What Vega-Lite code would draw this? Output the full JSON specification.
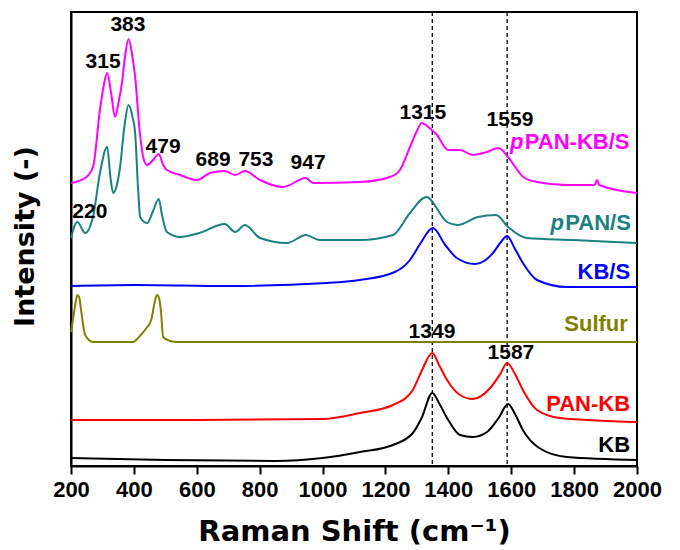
{
  "$schema": "https://vega.github.io/schema/vega-lite/v6.json",
  "width": 566,
  "height": 454,
  "autosize": "none",
  "padding": {"left": 71, "top": 12, "right": 43, "bottom": 84},
  "background": "white",
  "config": {"view": {"stroke": "black", "strokeWidth": 2}},
  "datasets": {
    "spectra": [
      {"series": "pPAN-KB/S", "wn": 200, "I": 283},
      {"series": "pPAN-KB/S", "wn": 245, "I": 288},
      {"series": "pPAN-KB/S", "wn": 270, "I": 299},
      {"series": "pPAN-KB/S", "wn": 292, "I": 356},
      {"series": "pPAN-KB/S", "wn": 305, "I": 382},
      {"series": "pPAN-KB/S", "wn": 315, "I": 393},
      {"series": "pPAN-KB/S", "wn": 328, "I": 372},
      {"series": "pPAN-KB/S", "wn": 340, "I": 349},
      {"series": "pPAN-KB/S", "wn": 352, "I": 365},
      {"series": "pPAN-KB/S", "wn": 362, "I": 383},
      {"series": "pPAN-KB/S", "wn": 372, "I": 410},
      {"series": "pPAN-KB/S", "wn": 383, "I": 427},
      {"series": "pPAN-KB/S", "wn": 395, "I": 410},
      {"series": "pPAN-KB/S", "wn": 404, "I": 389},
      {"series": "pPAN-KB/S", "wn": 419, "I": 333},
      {"series": "pPAN-KB/S", "wn": 432, "I": 306},
      {"series": "pPAN-KB/S", "wn": 442, "I": 301},
      {"series": "pPAN-KB/S", "wn": 461, "I": 306},
      {"series": "pPAN-KB/S", "wn": 479, "I": 312},
      {"series": "pPAN-KB/S", "wn": 492, "I": 302},
      {"series": "pPAN-KB/S", "wn": 505, "I": 296},
      {"series": "pPAN-KB/S", "wn": 547, "I": 291},
      {"series": "pPAN-KB/S", "wn": 601, "I": 286},
      {"series": "pPAN-KB/S", "wn": 642, "I": 293},
      {"series": "pPAN-KB/S", "wn": 689, "I": 295},
      {"series": "pPAN-KB/S", "wn": 722, "I": 291},
      {"series": "pPAN-KB/S", "wn": 753, "I": 295},
      {"series": "pPAN-KB/S", "wn": 801, "I": 286},
      {"series": "pPAN-KB/S", "wn": 874, "I": 279},
      {"series": "pPAN-KB/S", "wn": 947, "I": 288},
      {"series": "pPAN-KB/S", "wn": 970, "I": 283},
      {"series": "pPAN-KB/S", "wn": 1119, "I": 284},
      {"series": "pPAN-KB/S", "wn": 1214, "I": 289},
      {"series": "pPAN-KB/S", "wn": 1246, "I": 296},
      {"series": "pPAN-KB/S", "wn": 1278, "I": 319},
      {"series": "pPAN-KB/S", "wn": 1300, "I": 335},
      {"series": "pPAN-KB/S", "wn": 1315, "I": 343},
      {"series": "pPAN-KB/S", "wn": 1340, "I": 338},
      {"series": "pPAN-KB/S", "wn": 1364, "I": 331},
      {"series": "pPAN-KB/S", "wn": 1399, "I": 316},
      {"series": "pPAN-KB/S", "wn": 1437, "I": 316},
      {"series": "pPAN-KB/S", "wn": 1478, "I": 311},
      {"series": "pPAN-KB/S", "wn": 1523, "I": 314},
      {"series": "pPAN-KB/S", "wn": 1559, "I": 318},
      {"series": "pPAN-KB/S", "wn": 1590, "I": 309},
      {"series": "pPAN-KB/S", "wn": 1615, "I": 298},
      {"series": "pPAN-KB/S", "wn": 1638, "I": 289},
      {"series": "pPAN-KB/S", "wn": 1682, "I": 284},
      {"series": "pPAN-KB/S", "wn": 1777, "I": 281},
      {"series": "pPAN-KB/S", "wn": 1865, "I": 281},
      {"series": "pPAN-KB/S", "wn": 1873, "I": 286},
      {"series": "pPAN-KB/S", "wn": 1880, "I": 281},
      {"series": "pPAN-KB/S", "wn": 2000, "I": 273},

      {"series": "pPAN/S", "wn": 200, "I": 228},
      {"series": "pPAN/S", "wn": 220, "I": 244},
      {"series": "pPAN/S", "wn": 245, "I": 233},
      {"series": "pPAN/S", "wn": 270, "I": 249},
      {"series": "pPAN/S", "wn": 292, "I": 293},
      {"series": "pPAN/S", "wn": 315, "I": 319},
      {"series": "pPAN/S", "wn": 325, "I": 290},
      {"series": "pPAN/S", "wn": 334, "I": 273},
      {"series": "pPAN/S", "wn": 345, "I": 280},
      {"series": "pPAN/S", "wn": 356, "I": 299},
      {"series": "pPAN/S", "wn": 370, "I": 340},
      {"series": "pPAN/S", "wn": 383, "I": 361},
      {"series": "pPAN/S", "wn": 395, "I": 350},
      {"series": "pPAN/S", "wn": 404, "I": 333},
      {"series": "pPAN/S", "wn": 413, "I": 279},
      {"series": "pPAN/S", "wn": 420, "I": 249},
      {"series": "pPAN/S", "wn": 433, "I": 244},
      {"series": "pPAN/S", "wn": 442, "I": 243},
      {"series": "pPAN/S", "wn": 461, "I": 255},
      {"series": "pPAN/S", "wn": 479, "I": 267},
      {"series": "pPAN/S", "wn": 490, "I": 250},
      {"series": "pPAN/S", "wn": 505, "I": 234},
      {"series": "pPAN/S", "wn": 547, "I": 229},
      {"series": "pPAN/S", "wn": 608, "I": 233},
      {"series": "pPAN/S", "wn": 689, "I": 242},
      {"series": "pPAN/S", "wn": 722, "I": 234},
      {"series": "pPAN/S", "wn": 753, "I": 241},
      {"series": "pPAN/S", "wn": 801, "I": 228},
      {"series": "pPAN/S", "wn": 887, "I": 223},
      {"series": "pPAN/S", "wn": 947, "I": 231},
      {"series": "pPAN/S", "wn": 990, "I": 226},
      {"series": "pPAN/S", "wn": 1119, "I": 226},
      {"series": "pPAN/S", "wn": 1224, "I": 231},
      {"series": "pPAN/S", "wn": 1278, "I": 253},
      {"series": "pPAN/S", "wn": 1330, "I": 269},
      {"series": "pPAN/S", "wn": 1396, "I": 244},
      {"series": "pPAN/S", "wn": 1430, "I": 241},
      {"series": "pPAN/S", "wn": 1494, "I": 249},
      {"series": "pPAN/S", "wn": 1552, "I": 251},
      {"series": "pPAN/S", "wn": 1590, "I": 239},
      {"series": "pPAN/S", "wn": 1650, "I": 228},
      {"series": "pPAN/S", "wn": 1797, "I": 226},
      {"series": "pPAN/S", "wn": 2000, "I": 223},

      {"series": "KB/S", "wn": 200, "I": 180},
      {"series": "KB/S", "wn": 400, "I": 181},
      {"series": "KB/S", "wn": 700, "I": 180},
      {"series": "KB/S", "wn": 1014, "I": 183},
      {"series": "KB/S", "wn": 1119, "I": 186},
      {"series": "KB/S", "wn": 1230, "I": 194},
      {"series": "KB/S", "wn": 1278, "I": 206},
      {"series": "KB/S", "wn": 1310, "I": 222},
      {"series": "KB/S", "wn": 1351, "I": 238},
      {"series": "KB/S", "wn": 1390, "I": 221},
      {"series": "KB/S", "wn": 1427, "I": 208},
      {"series": "KB/S", "wn": 1485, "I": 202},
      {"series": "KB/S", "wn": 1542, "I": 213},
      {"series": "KB/S", "wn": 1565, "I": 223},
      {"series": "KB/S", "wn": 1587, "I": 230},
      {"series": "KB/S", "wn": 1612, "I": 217},
      {"series": "KB/S", "wn": 1637, "I": 203},
      {"series": "KB/S", "wn": 1682, "I": 186},
      {"series": "KB/S", "wn": 1777, "I": 179},
      {"series": "KB/S", "wn": 2000, "I": 179},

      {"series": "Sulfur", "wn": 200, "I": 134},
      {"series": "Sulfur", "wn": 206, "I": 146},
      {"series": "Sulfur", "wn": 213, "I": 160},
      {"series": "Sulfur", "wn": 220, "I": 171},
      {"series": "Sulfur", "wn": 226, "I": 169},
      {"series": "Sulfur", "wn": 232, "I": 156},
      {"series": "Sulfur", "wn": 245, "I": 131},
      {"series": "Sulfur", "wn": 270, "I": 124},
      {"series": "Sulfur", "wn": 397, "I": 124},
      {"series": "Sulfur", "wn": 419, "I": 130},
      {"series": "Sulfur", "wn": 440, "I": 138},
      {"series": "Sulfur", "wn": 455, "I": 146},
      {"series": "Sulfur", "wn": 465, "I": 162},
      {"series": "Sulfur", "wn": 473, "I": 171},
      {"series": "Sulfur", "wn": 480, "I": 168},
      {"series": "Sulfur", "wn": 486, "I": 155},
      {"series": "Sulfur", "wn": 493, "I": 129},
      {"series": "Sulfur", "wn": 515, "I": 125},
      {"series": "Sulfur", "wn": 540, "I": 124},
      {"series": "Sulfur", "wn": 2000, "I": 124},

      {"series": "PAN-KB", "wn": 200, "I": 46},
      {"series": "PAN-KB", "wn": 600, "I": 46},
      {"series": "PAN-KB", "wn": 1000, "I": 47},
      {"series": "PAN-KB", "wn": 1119, "I": 53},
      {"series": "PAN-KB", "wn": 1224, "I": 61},
      {"series": "PAN-KB", "wn": 1287, "I": 76},
      {"series": "PAN-KB", "wn": 1315, "I": 95},
      {"series": "PAN-KB", "wn": 1349, "I": 113},
      {"series": "PAN-KB", "wn": 1372, "I": 100},
      {"series": "PAN-KB", "wn": 1396, "I": 86},
      {"series": "PAN-KB", "wn": 1437, "I": 71},
      {"series": "PAN-KB", "wn": 1478, "I": 67},
      {"series": "PAN-KB", "wn": 1533, "I": 78},
      {"series": "PAN-KB", "wn": 1565, "I": 92},
      {"series": "PAN-KB", "wn": 1587, "I": 103},
      {"series": "PAN-KB", "wn": 1612, "I": 92},
      {"series": "PAN-KB", "wn": 1637, "I": 76},
      {"series": "PAN-KB", "wn": 1682, "I": 56},
      {"series": "PAN-KB", "wn": 1755, "I": 48},
      {"series": "PAN-KB", "wn": 2000, "I": 44},

      {"series": "KB", "wn": 200, "I": 8},
      {"series": "KB", "wn": 500, "I": 6},
      {"series": "KB", "wn": 850, "I": 5},
      {"series": "KB", "wn": 1000, "I": 8},
      {"series": "KB", "wn": 1119, "I": 14},
      {"series": "KB", "wn": 1224, "I": 21},
      {"series": "KB", "wn": 1287, "I": 33},
      {"series": "KB", "wn": 1315, "I": 48},
      {"series": "KB", "wn": 1349, "I": 73},
      {"series": "KB", "wn": 1372, "I": 62},
      {"series": "KB", "wn": 1396, "I": 48},
      {"series": "KB", "wn": 1437, "I": 31},
      {"series": "KB", "wn": 1478, "I": 29},
      {"series": "KB", "wn": 1523, "I": 34},
      {"series": "KB", "wn": 1560, "I": 48},
      {"series": "KB", "wn": 1590, "I": 62},
      {"series": "KB", "wn": 1612, "I": 52},
      {"series": "KB", "wn": 1637, "I": 36},
      {"series": "KB", "wn": 1689, "I": 18},
      {"series": "KB", "wn": 1777, "I": 9},
      {"series": "KB", "wn": 2000, "I": 6}
    ],
    "peaks": [
      {"label": "315", "wn": 302, "I": 404},
      {"label": "383", "wn": 381, "I": 441},
      {"label": "479", "wn": 493, "I": 319},
      {"label": "689", "wn": 652, "I": 306},
      {"label": "753", "wn": 788, "I": 306},
      {"label": "947", "wn": 954, "I": 303},
      {"label": "220", "wn": 260, "I": 254},
      {"label": "1315", "wn": 1319, "I": 353},
      {"label": "1559", "wn": 1596, "I": 346},
      {"label": "1349", "wn": 1348, "I": 134},
      {"label": "1587", "wn": 1599, "I": 113}
    ],
    "rightLabels": [
      {"series": "KB/S", "label": "KB/S", "wn": 1978, "I": 194},
      {"series": "Sulfur", "label": "Sulfur", "wn": 1971, "I": 142},
      {"series": "PAN-KB", "label": "PAN-KB", "wn": 1978, "I": 62},
      {"series": "KB", "label": "KB", "wn": 1978, "I": 21}
    ],
    "leftLabels": [
      {"series": "pPAN-KB/S", "label": "PAN-KB/S", "wn": 1643, "I": 324},
      {"series": "pPAN/S", "label": "PAN/S", "wn": 1772, "I": 243}
    ],
    "prefix": [
      {"series": "pPAN-KB/S", "label": "p", "wn": 1596, "I": 324},
      {"series": "pPAN/S", "label": "p", "wn": 1725, "I": 243}
    ],
    "guides": [{"wn": 1349}, {"wn": 1587}]
  },
  "layer": [
    {
      "data": {"name": "guides"},
      "mark": {"type": "rule", "color": "black", "strokeWidth": 1.3, "strokeDash": [4, 3]},
      "encoding": {
        "x": {"field": "wn", "type": "quantitative", "scale": {"domain": [200, 2000], "nice": false, "zero": false}}
      }
    },
    {
      "data": {"name": "spectra"},
      "mark": {"type": "line", "strokeWidth": 2, "interpolate": "monotone"},
      "encoding": {
        "x": {
          "field": "wn", "type": "quantitative",
          "scale": {"domain": [200, 2000], "nice": false, "zero": false},
          "axis": {
            "title": "Raman Shift (cm⁻¹)",
            "values": [200, 300, 400, 500, 600, 700, 800, 900, 1000, 1100, 1200, 1300, 1400, 1500, 1600, 1700, 1800, 1900, 2000],
            "format": "d",
            "labelExpr": "datum.value % 200 === 0 ? datum.label : ''",
            "tickSize": {"condition": {"test": "datum.value % 200 === 0", "value": 8}, "value": 5},
            "labelFont": "Liberation Sans",
            "labelFontSize": 22,
            "labelFontWeight": "bold",
            "labelColor": "black",
            "labelPadding": 5,
            "labelOverlap": false,
            "labelFlush": false,
            "domainColor": "black",
            "domainWidth": 2,
            "tickColor": "black",
            "tickWidth": 2,
            "grid": false,
            "titleFont": "DejaVu Sans",
            "titleFontSize": 29,
            "titleFontWeight": "bold",
            "titleColor": "black",
            "titleX": 283,
            "titleY": 65,
            "titleAlign": "center",
            "titleBaseline": "middle"
          }
        },
        "y": {
          "field": "I", "type": "quantitative",
          "scale": {"domain": [0, 454], "nice": false, "zero": false},
          "axis": {
            "title": "Intensity (-)",
            "labels": false,
            "ticks": false,
            "grid": false,
            "domainColor": "black",
            "domainWidth": 2,
            "titleFont": "DejaVu Sans",
            "titleFontSize": 27,
            "titleFontWeight": "bold",
            "titleColor": "black",
            "titleAngle": -90,
            "titleX": -46,
            "titleY": 224,
            "titleAlign": "center",
            "titleBaseline": "middle"
          }
        },
        "color": {
          "field": "series", "type": "nominal",
          "scale": {
            "domain": ["pPAN-KB/S", "pPAN/S", "KB/S", "Sulfur", "PAN-KB", "KB"],
            "range": ["#ff00ff", "#1a8080", "#0000ff", "#808000", "#ff0000", "#000000"]
          },
          "legend": null
        }
      }
    },
    {
      "data": {"name": "peaks"},
      "mark": {"type": "text", "font": "Liberation Sans", "fontSize": 21, "fontWeight": "bold", "color": "black", "align": "center", "baseline": "middle"},
      "encoding": {
        "x": {"field": "wn", "type": "quantitative"},
        "y": {"field": "I", "type": "quantitative"},
        "text": {"field": "label"}
      }
    },
    {
      "data": {"name": "rightLabels"},
      "mark": {"type": "text", "font": "Liberation Sans", "fontSize": 22, "fontWeight": "bold", "align": "right", "baseline": "middle"},
      "encoding": {
        "x": {"field": "wn", "type": "quantitative"},
        "y": {"field": "I", "type": "quantitative"},
        "text": {"field": "label"},
        "color": {"field": "series", "type": "nominal", "legend": null}
      }
    },
    {
      "data": {"name": "leftLabels"},
      "mark": {"type": "text", "font": "Liberation Sans", "fontSize": 22, "fontWeight": "bold", "align": "left", "baseline": "middle"},
      "encoding": {
        "x": {"field": "wn", "type": "quantitative"},
        "y": {"field": "I", "type": "quantitative"},
        "text": {"field": "label"},
        "color": {"field": "series", "type": "nominal", "legend": null}
      }
    },
    {
      "data": {"name": "prefix"},
      "mark": {"type": "text", "font": "Liberation Sans", "fontSize": 22, "fontWeight": "bold", "fontStyle": "italic", "align": "left", "baseline": "middle"},
      "encoding": {
        "x": {"field": "wn", "type": "quantitative"},
        "y": {"field": "I", "type": "quantitative"},
        "text": {"field": "label"},
        "color": {"field": "series", "type": "nominal", "legend": null}
      }
    }
  ]
}
